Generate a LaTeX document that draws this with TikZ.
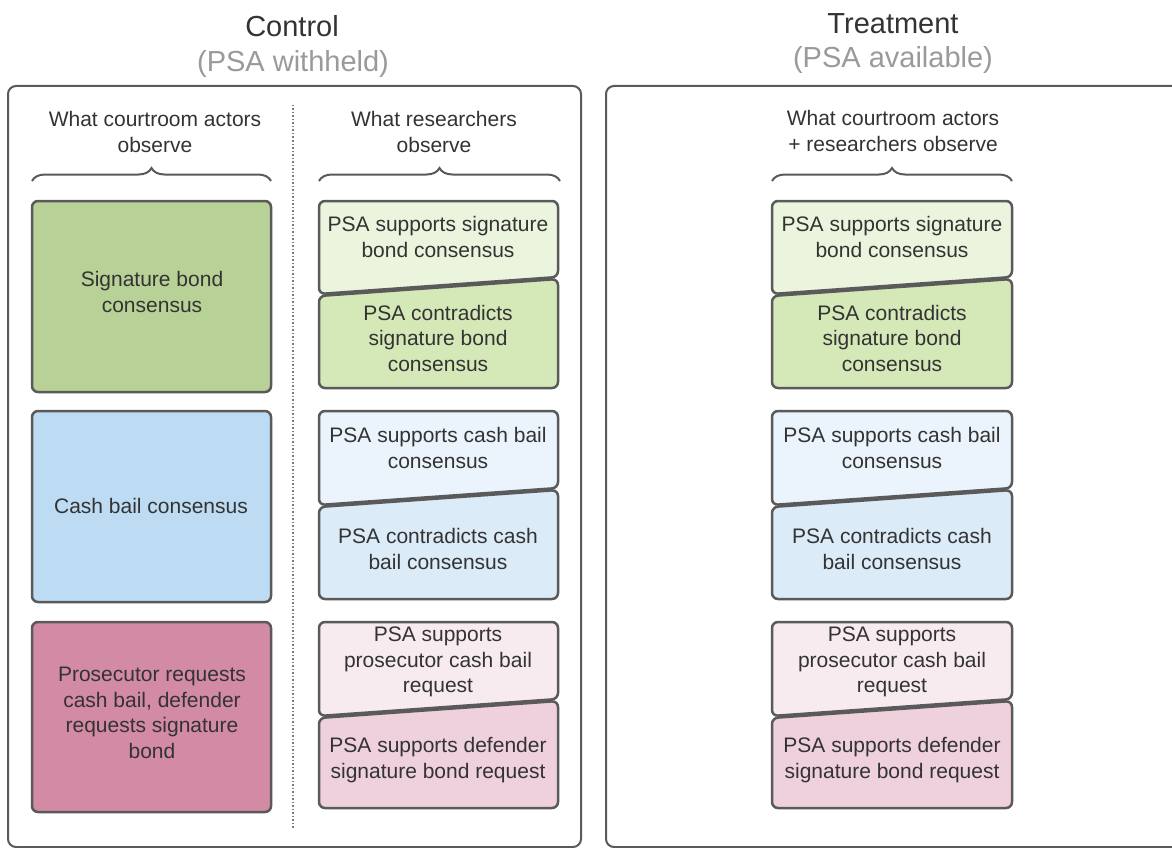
\documentclass[tikz,border=0pt]{standalone}
\usepackage{fontspec}
\setmainfont{Liberation Sans}
\usetikzlibrary{decorations.pathreplacing}
\definecolor{txt}{HTML}{333333}
\definecolor{sub}{HTML}{9A9A9A}
\definecolor{edge}{HTML}{5A5A5A}
\definecolor{gDark}{HTML}{B8D197}
\definecolor{bDark}{HTML}{BDDCF3}
\definecolor{pDark}{HTML}{D38AA4}
\definecolor{gLight}{HTML}{EBF4DD}
\definecolor{gMid}{HTML}{D5E8B8}
\definecolor{bLight}{HTML}{EBF4FC}
\definecolor{bMid}{HTML}{DCEBF8}
\definecolor{pLight}{HTML}{F8EBF0}
\definecolor{pMid}{HTML}{EFD0DD}
\newcommand\splitbox[8]{%
  \filldraw[boxline, fill=#7] (#1,#3) -- (#2,#3) -- (#2,#5) -- (#1,#4) -- cycle;
  \filldraw[boxline, fill=#8] (#1,#4+2) -- (#2,#5+2) -- (#2,#6) -- (#1,#6) -- cycle;
}
\begin{document}
\begin{tikzpicture}[x=1pt,y=-1pt,
  boxline/.style={draw=edge, line width=2.5pt, rounded corners=6pt, line join=round},
  frame/.style={draw=edge, line width=2pt, rounded corners=8pt},
  lbl/.style={text=txt, align=center, inner sep=0pt, font=\fontsize{21}{25.5}\selectfont},
  ttl/.style={text=txt, inner sep=0pt, font=\fontsize{29}{33}\selectfont},
  subttl/.style={text=sub, inner sep=0pt, font=\fontsize{29}{33}\selectfont},
  brc/.style={draw=edge, line width=2pt, decorate, decoration={brace, amplitude=13pt}}]
\useasboundingbox (0,0) rectangle (1172,848);
\clip (0,0) rectangle (1172,848);
\fill[white] (0,0) rectangle (1172,848);

% titles
\node[ttl] (tC) at (292,26) {Control};
\node[subttl] (sC) at (293,64) {(PSA withheld)};
\node[ttl] (tT) at (893,24) {Treatment};
\node[subttl] (sT) at (893,60) {(PSA available)};

% frames
\draw[frame] (8,86) rectangle (581,847);
\draw[frame] (606,86) rectangle (1200,847);

% divider
\coordinate (d1) at (293,105);
\coordinate (d2) at (293,828);
\draw[edge!80, line width=1.5pt, dotted] (d1) -- (d2);

% headers
\node[lbl] (h1) at (155,132) {What courtroom actors\\observe};
\node[lbl] (h2) at (434,132) {What researchers\\observe};
\node[lbl] (h3) at (893,131) {What courtroom actors\\+ researchers observe};

% braces
\coordinate (b1a) at (32,181); \coordinate (b1b) at (271,181);
\coordinate (b2a) at (319,181); \coordinate (b2b) at (560,181);
\coordinate (b3a) at (772,181); \coordinate (b3b) at (1012,181);
\draw[brc] (b1a) -- (b1b);
\draw[brc] (b2a) -- (b2b);
\draw[brc] (b3a) -- (b3b);

% left column
\filldraw[boxline, fill=gDark] (32,201) rectangle (271,392);
\filldraw[boxline, fill=bDark] (32,411) rectangle (271,602);
\filldraw[boxline, fill=pDark] (32,622) rectangle (271,812);
\node[lbl] (l1) at (152,292) {Signature bond\\consensus};
\node[lbl] (l2) at (151,506) {Cash bail consensus};
\node[lbl] (l3) at (152,713) {Prosecutor requests\\cash bail, defender\\requests signature\\bond};

% control split boxes
\splitbox{319}{558}{201}{294}{277}{388}{gLight}{gMid}
\splitbox{319}{558}{411}{505}{488}{599}{bLight}{bMid}
\splitbox{319}{558}{622}{716}{699}{808}{pLight}{pMid}
% treatment split boxes
\splitbox{772}{1012}{201}{294}{277}{388}{gLight}{gMid}
\splitbox{772}{1012}{411}{505}{488}{599}{bLight}{bMid}
\splitbox{772}{1012}{622}{716}{699}{808}{pLight}{pMid}

\foreach \cx/\s in {438/c, 892/t}{
  \node[lbl] (\s g1) at (\cx,237) {PSA supports signature\\bond consensus};
  \node[lbl] (\s g2) at (\cx,338) {PSA contradicts\\signature bond\\consensus};
  \node[lbl] (\s b1) at (\cx,448) {PSA supports cash bail\\consensus};
  \node[lbl] (\s b2) at (\cx,549) {PSA contradicts cash\\bail consensus};
  \node[lbl] (\s p1) at (\cx,662) {PSA supports\\prosecutor cash bail\\request};
  \node[lbl] (\s p2) at (\cx,760) {PSA supports defender\\signature bond request};
}
\end{tikzpicture}
\end{document}
